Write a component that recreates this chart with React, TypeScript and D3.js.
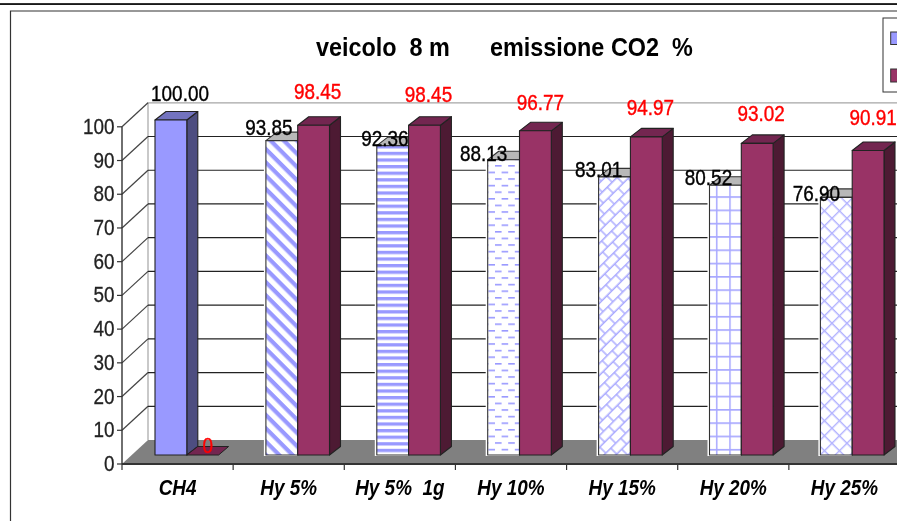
import React from "react";
import * as d3 from "d3";

const categories = ["CH4", "Hy 5%", "Hy 5%  1g", "Hy 10%", "Hy 15%", "Hy 20%", "Hy 25%"];
const seriesA = [100.0, 93.85, 92.36, 88.13, 83.01, 80.52, 76.9];
const seriesB = [0, 98.45, 98.45, 96.77, 94.97, 93.02, 90.91];
const yTicks = [0, 10, 20, 30, 40, 50, 60, 70, 80, 90, 100];
const patterns = ["", "pDiag", "pHoriz", "pDash", "pBrick", "pGrid", "pCross"];
const labelA = ["100.00", "93.85", "92.36", "88.13", "83.01", "80.52", "76.90"];
const labelB = ["0", "98.45", "98.45", "96.77", "94.97", "93.02", "90.91"];
// label nudges relative to the bar top and bar left
const nudgeAx = [25, 3, 8, -4, 0, -1, -4];
const nudgeAy = [-19, -6, 0, 1, 0, 0, 4];
const nudgeBx = [5, 4, 4, 5, 4, 4, 5];
const nudgeBy = [-2, -26, -23, -21, -22, -22, -25];

const W = 897, H = 521;
const font = "'Liberation Sans',Arial,sans-serif";
const dep = 24, depX = 26;
const xTick = d3.scaleLinear().domain([0, 7]).range([122, 900]);
const xBar = d3.scaleLinear().domain([0, 6]).range([155, 820.4]);
const yFront = d3.scaleLinear().domain([0, 100]).range([464, 126.8]);
const yBar = d3.scaleLinear().domain([0, 100]).range([455, 120]);
const barW = 31.8, barDx = 11, barDy = 8.5;

// Text squeezed horizontally, as in the reference's narrow rendering
const Txt = ({ x, y, sx = 0.86, children, ...rest }: any) => (
  <text transform={`translate(${x},${y}) scale(${sx},1)`} xmlSpace="preserve" style={{ whiteSpace: "pre" }} {...rest}>
    {children}
  </text>
);

const Bar = ({ x, v, front, side, top, outline }: any) => {
  const y0 = yBar(0), y1 = yBar(v);
  return (
    <g stroke={outline} strokeWidth={1.1} strokeLinejoin="round">
      <path d={`M${x + barW},${y1}L${x + barW + barDx},${y1 - barDy}L${x + barW + barDx},${y0 - barDy}L${x + barW},${y0}Z`} fill={side} />
      <path d={`M${x},${y1}L${x + barDx},${y1 - barDy}L${x + barW + barDx},${y1 - barDy}L${x + barW},${y1}Z`} fill={top} />
      <rect x={x} y={y1} width={barW} height={y0 - y1} fill={front} />
    </g>
  );
};

export default function App() {
  const n = categories.length;
  return (
    <svg width={W} height={H} viewBox={`0 0 ${W} ${H}`} style={{ position: "absolute", left: 0, top: 0, background: "#fff" }} fontFamily={font}>
      <defs>
        <filter id="soft" x="0" y="0" width="100%" height="100%" colorInterpolationFilters="sRGB">
          <feGaussianBlur stdDeviation="0.4" />
        </filter>
        <pattern id="pDiag" width="9.4" height="9.4" patternUnits="userSpaceOnUse" patternTransform="rotate(45)">
          <rect width="9.4" height="9.4" fill="#fff" />
          <rect y="0" width="9.4" height="4.2" fill="#9999ff" />
        </pattern>
        <pattern id="pHoriz" width="8" height="6.6" patternUnits="userSpaceOnUse">
          <rect width="8" height="6.6" fill="#fff" />
          <rect y="0" width="8" height="3.3" fill="#9999ff" />
        </pattern>
        <pattern id="pDash" width="13.2" height="13.2" patternUnits="userSpaceOnUse">
          <rect width="13.2" height="13.2" fill="#fff" />
          <rect x="0" y="0" width="6.6" height="1.6" fill="#9999ff" />
          <rect x="6.6" y="6.6" width="6.6" height="1.6" fill="#9999ff" />
        </pattern>
        <pattern id="pBrick" width="14" height="17" patternUnits="userSpaceOnUse" patternTransform="rotate(-45)">
          <rect width="14" height="17" fill="#fff" />
          <path d="M0,0.8H14M0,9.3H14M3,0.8V9.3M10,9.3V17.8" stroke="#a8a8ff" strokeWidth="1.4" fill="none" />
        </pattern>
        <pattern id="pGrid" width="13.3" height="13.3" patternUnits="userSpaceOnUse" x="11" y="10">
          <rect width="13.3" height="13.3" fill="#fff" />
          <path d="M0.8,0V13.3M0,0.8H13.3" stroke="#a8a8ff" strokeWidth="1.5" fill="none" />
        </pattern>
        <pattern id="pCross" width="10.6" height="10.6" patternUnits="userSpaceOnUse" patternTransform="rotate(45)">
          <rect width="10.6" height="10.6" fill="#fff" />
          <path d="M0.7,0V10.6M0,0.7H10.6" stroke="#b4b4ff" strokeWidth="1.4" fill="none" />
        </pattern>
      </defs>

      <g filter="url(#soft)">
        {/* page rules */}
        <rect x={0} y={3.2} width={W} height={1.7} fill="#000" />
        <path d={`M10.5,${H}V11H${W}`} fill="none" stroke="#333" strokeWidth={1.2} />

        {/* title */}
        <Txt x={316} y={56} sx={0.9} fontSize={26} fontWeight="bold" fill="#000">veicolo  8 m</Txt>
        <Txt x={490} y={56} sx={0.9} fontSize={26} fontWeight="bold" fill="#000">emissione CO2  %</Txt>

        {/* legend, cut by the right edge */}
        <rect x={883} y={18} width={30} height={74} fill="#fff" stroke="#333" strokeWidth={1} />
        <rect x={890.7} y={32} width={14} height={12.5} fill="#9999ff" stroke="#333" />
        <rect x={890.7} y={69} width={14} height={13} fill="#993366" stroke="#333" />

        {/* walls */}
        <path d={`M${122 + depX},${yFront(0) - dep}V${yFront(100) - dep}H${W}`} fill="none" stroke="#a6a6a6" strokeWidth={1.2} />
        <path d={`M122,${yFront(0)}L${122 + depX},${yFront(0) - dep}H${W + 2}V${yFront(0)}Z`} fill="#808080" />
        {yTicks.map((t) => (
          <g key={t} fill="none" stroke="#222" strokeWidth={1.2}>
            {t > 0 && <path d={`M122,${yFront(t)}L${122 + depX},${yFront(t) - dep}`} stroke="#444" />}
            {t > 0 && t < 100 && <path d={`M${122 + depX},${yFront(t) - dep}H${W}`} />}
          </g>
        ))}

        {/* axes */}
        <path d={`M122,${yFront(100)}V${yFront(0)}`} stroke="#333" strokeWidth={1.4} fill="none" />
        {yTicks.map((t) => (
          <g key={t}>
            <line x1={117} x2={122} y1={yFront(t)} y2={yFront(t)} stroke="#333" strokeWidth={1.2} />
            <Txt x={114.5} y={yFront(t) + 7} textAnchor="end" fontSize={22} fill="#222" stroke="#222" strokeWidth={0.3}>{t}</Txt>
          </g>
        ))}
        <line x1={122} x2={W} y1={yFront(0)} y2={yFront(0)} stroke="#333" strokeWidth={2} />
        {d3.range(n + 1).map((i) => (
          <line key={i} x1={xTick(i)} x2={xTick(i)} y1={yFront(0)} y2={470} stroke="#333" strokeWidth={1.2} />
        ))}
        {categories.map((c, i) => (
          <Txt key={c} x={xTick(i + 0.5)} y={495} textAnchor="middle" fontSize={22} fontWeight="bold" fontStyle="italic" fill="#000">{c}</Txt>
        ))}

        {/* bars */}
        {categories.map((c, i) => {
          const x0 = xBar(i);
          const x1 = x0 + barW;
          const a = seriesA[i], b = seriesB[i];
          return (
            <g key={c}>
              {i === 0 ? (
                <Bar x={x0} v={a} front="#9999ff" side="#4d4d80" top="#7373bf" outline="#222" />
              ) : (
                <>
                  <rect x={x0 - 2} y={yBar(a) - 1} width={barW + 2} height={yBar(0) - yBar(a) + 2} fill="#fff" />
                  <Bar x={x0} v={a} front={`url(#${patterns[i]})`} side="#4d4d80" top="#b8b8b8" outline="#333" />
                </>
              )}
              {b > 0 ? (
                <Bar x={x1} v={b} front="#993366" side="#4d1a33" top="#732650" outline="#222" />
              ) : (
                <path d={`M${x1},${yBar(0)}L${x1 + barDx},${yBar(0) - barDy}H${x1 + barW + barDx - 1}L${x1 + barW},${yBar(0)}Z`} fill="#732650" stroke="#222" />
              )}
            </g>
          );
        })}

        {/* labels */}
        {categories.map((c, i) => {
          const x0 = xBar(i);
          const x1 = x0 + barW;
          return (
            <g key={c} fontSize={22} strokeWidth={0.4}>
              <Txt x={x0 + nudgeAx[i]} y={yBar(seriesA[i]) + nudgeAy[i]} textAnchor="middle" fill="#000" stroke="#000">{labelA[i]}</Txt>
              <Txt x={x1 + barW / 2 + nudgeBx[i]} y={yBar(seriesB[i]) + nudgeBy[i]} textAnchor="middle" fill="#ff0000" stroke="#ff0000">{labelB[i]}</Txt>
            </g>
          );
        })}
      </g>
    </svg>
  );
}
